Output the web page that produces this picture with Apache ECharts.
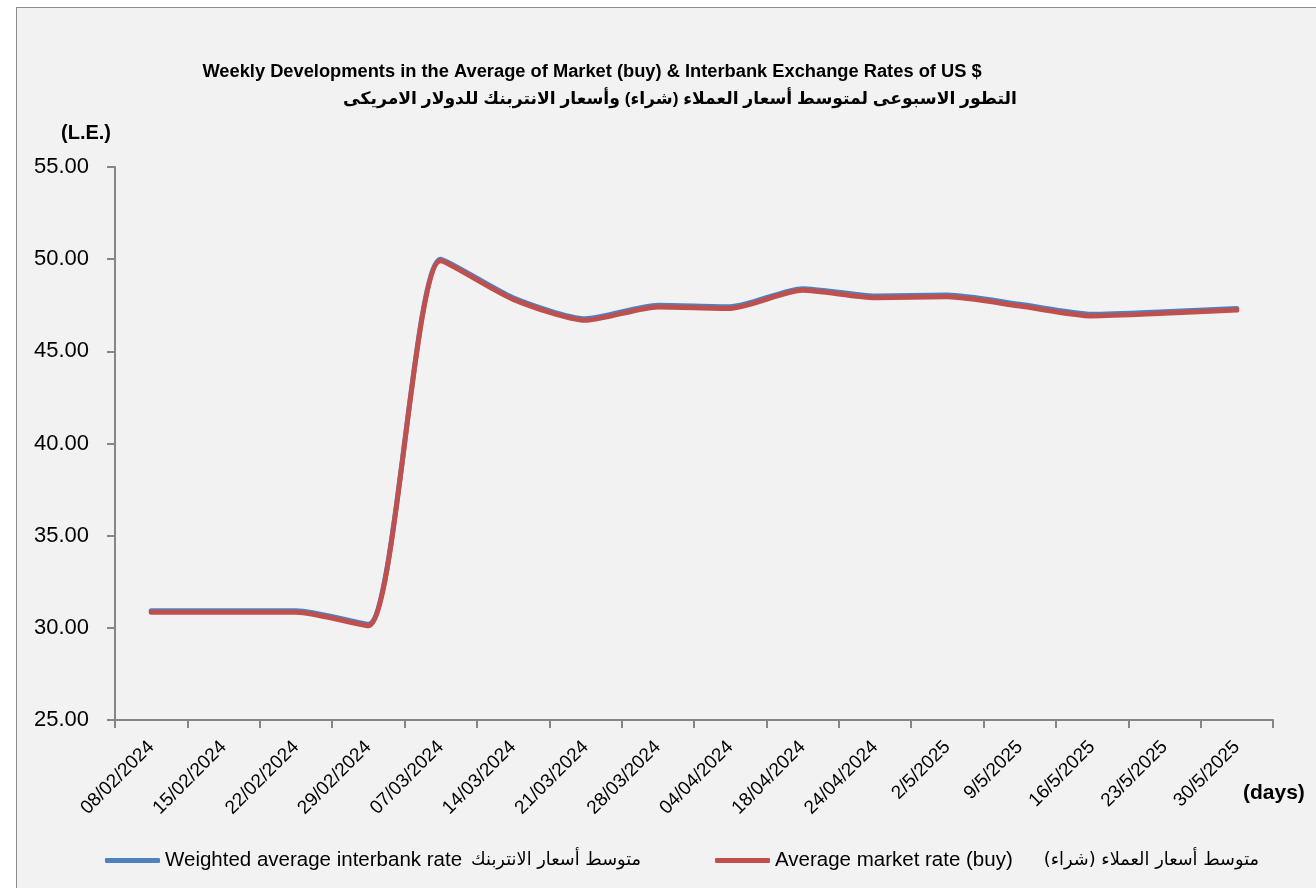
<!DOCTYPE html>
<html>
<head>
<meta charset="utf-8">
<script src="https://cdn.jsdelivr.net/npm/echarts@6/dist/echarts.min.js"></script>
<style>
html,body{margin:0;padding:0;background:#ffffff;}
#wrap{position:relative;width:1316px;height:888px;overflow:hidden;}
#frame{position:absolute;left:16px;top:7px;width:1400px;height:1000px;border:1px solid #8c8c8c;background:#f2f2f2;}
#chart{position:absolute;left:0;top:0;width:1316px;height:888px;}
</style>
</head>
<body>
<div id="wrap"><div id="frame"></div><div id="chart"></div></div>
<script>
// ---- data ----
const categories = ['08/02/2024','15/02/2024','22/02/2024','29/02/2024','07/03/2024','14/03/2024','21/03/2024','28/03/2024','04/04/2024','18/04/2024','24/04/2024','2/5/2025','9/5/2025','16/5/2025','23/5/2025','30/5/2025'];
const interbankRate = [30.93, 30.93, 30.93, 30.20, 50.00, 47.91, 46.77, 47.50, 47.42, 48.40, 48.00, 48.05, 47.55, 47.01, 47.15, 47.33];
const marketRate    = [30.84, 30.84, 30.84, 30.11, 49.91, 47.82, 46.68, 47.41, 47.33, 48.31, 47.91, 47.96, 47.46, 46.92, 47.06, 47.24];
const yTicks = [25, 30, 35, 40, 45, 50, 55];
const legendEn = ['Weighted average interbank rate', 'Average market rate (buy)'];
const legendAr = ['متوسط أسعار الانتربنك', 'متوسط أسعار العملاء (شراء)'];
const titleEn = 'Weekly Developments in the Average of Market (buy) & Interbank Exchange Rates of US $';
const titleAr = 'التطور الاسبوعى لمتوسط أسعار العملاء (شراء) وأسعار الانتربنك للدولار الامريكى';

const seriesNames = legendEn.map((e, i) => e + ' ' + legendAr[i]);
const FONT = '"Liberation Sans", "DejaVu Sans", sans-serif';
const AFONT = '"DejaVu Sans", sans-serif';

function legendFmt(i) {
  return function () { return '{en|' + legendEn[i] + '}{ar|' + legendAr[i] + '}'; };
}
function legendRich(arPad) {
  return {
    en: {fontFamily: FONT, fontSize: 20.5, color: '#000', lineHeight: 24},
    ar: {fontFamily: AFONT, fontSize: 17.8, color: '#000', lineHeight: 24, padding: [0, 0, 0, arPad]}
  };
}

const chart = echarts.init(document.getElementById('chart'), null, {renderer:'canvas'});
chart.setOption({
  backgroundColor: 'transparent',
  animation: false,
  title: [
    {text: titleEn, left: 592, top: 61, textAlign: 'center', padding: 0,
     textStyle:{fontFamily: FONT, fontSize: 18.3, lineHeight: 22, fontWeight: 'bold', color:'#000'}},
    {text: titleAr, left: 680, top: 88, textAlign: 'center', padding: 0,
     textStyle:{fontFamily: FONT, fontSize: 17.2, lineHeight: 22, fontWeight: 'bold', color:'#000'}}
  ],
  graphic: [
    {type:'text', left: 61, top: 123, style:{text:'(L.E.)', font:'bold 20px ' + FONT, fill:'#000'}},
    {type:'text', left: 1243, top: 783, style:{text:'(days)', font:'bold 21px ' + FONT, fill:'#000'}}
  ],
  legend: [
    {data:[seriesNames[0]], left: 105, top: 850, padding: 0, itemWidth: 55, itemHeight: 5, icon:'roundRect',
     formatter: legendFmt(0), textStyle:{rich: legendRich(9)}},
    {data:[seriesNames[1]], left: 715, top: 850, padding: 0, itemWidth: 55, itemHeight: 5, icon:'roundRect',
     formatter: legendFmt(1), textStyle:{rich: legendRich(31)}}
  ],
  grid: {left: 115, right: 43, top: 167, bottom: 168, containLabel: false},
  xAxis: {
    type: 'category', data: categories, boundaryGap: true,
    axisLine:{lineStyle:{color:'#868686', width:2}},
    axisTick:{show:true, length:8, lineStyle:{color:'#868686', width:2}, alignWithLabel:false},
    axisLabel:{rotate:45, margin:24, fontFamily: FONT, fontSize:19, color:'#000', interval:0},
    splitLine:{show:false}
  },
  yAxis: {
    type: 'value', min: yTicks[0], max: yTicks[yTicks.length-1], interval: 5,
    axisLine:{show:true, lineStyle:{color:'#868686', width:2}},
    axisTick:{show:true, length:8, lineStyle:{color:'#868686', width:2}},
    axisLabel:{margin:26, fontFamily: FONT, fontSize:22, color:'#000', formatter: v => v.toFixed(2)},
    splitLine:{show:false}
  },
  series: [
    {name: seriesNames[0], type:'line', data: interbankRate, smooth: 0.22, showSymbol:false, symbol:'none',
     color:'#4f81bd', lineStyle:{width:5, color:'#4f81bd', cap:'round', join:'round'}, z:2},
    {name: seriesNames[1], type:'line', data: marketRate, smooth: 0.22, showSymbol:false, symbol:'none',
     color:'#c0504d', lineStyle:{width:5, color:'#c0504d', cap:'round', join:'round'}, z:3}
  ]
});
</script>
</body>
</html>
